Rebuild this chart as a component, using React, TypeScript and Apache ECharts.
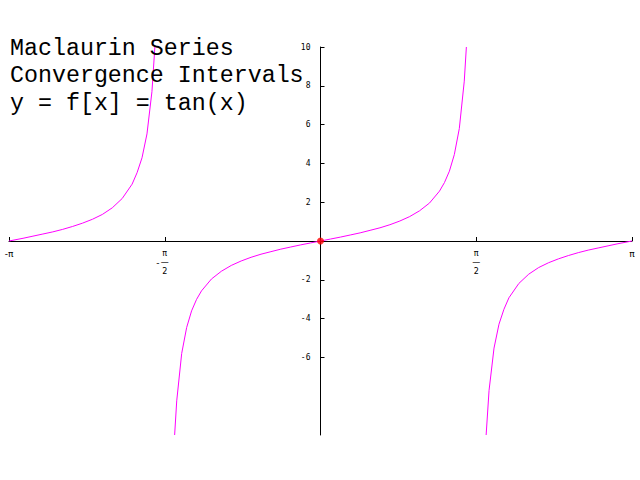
import React, { useEffect, useRef } from "react";
import * as echarts from "echarts";

const titleLines = ["Maclaurin Series", "Convergence Intervals", "y = f[x] = tan(x)"];

// Left branch of tan(x)
const leftX = [-3.1416, -3.0, -2.9, -2.8, -2.7, -2.6, -2.5, -2.4, -2.3, -2.2, -2.1, -2.0, -1.9, -1.85, -1.8, -1.75, -1.7, -1.6705];
const leftY = [0, 0.14, 0.25, 0.36, 0.47, 0.6, 0.75, 0.92, 1.12, 1.37, 1.71, 2.19, 2.93, 3.52, 4.29, 5.52, 7.7, 10];

// Middle branch
const midX = [-1.4711, -1.45, -1.4, -1.35, -1.3, -1.25, -1.2, -1.1, -1.0, -0.9, -0.8, -0.7, -0.6, -0.5, -0.4, -0.3, -0.2, -0.1, 0,
  0.1, 0.2, 0.3, 0.4, 0.5, 0.6, 0.7, 0.8, 0.9, 1.0, 1.1, 1.2, 1.25, 1.3, 1.35, 1.4, 1.45, 1.4711];
const midY = [-10, -8.24, -5.8, -4.46, -3.6, -3.01, -2.57, -1.96, -1.56, -1.26, -1.03, -0.84, -0.68, -0.55, -0.42, -0.31, -0.2, -0.1, 0,
  0.1, 0.2, 0.31, 0.42, 0.55, 0.68, 0.84, 1.03, 1.26, 1.56, 1.96, 2.57, 3.01, 3.6, 4.46, 5.8, 8.24, 10];

// Right branch
const rightX = [1.6705, 1.7, 1.75, 1.8, 1.85, 1.9, 2.0, 2.1, 2.2, 2.3, 2.4, 2.5, 2.6, 2.7, 2.8, 2.9, 3.0, 3.1416];
const rightY = [-10, -7.7, -5.52, -4.29, -3.52, -2.93, -2.19, -1.71, -1.37, -1.12, -0.92, -0.75, -0.6, -0.47, -0.36, -0.25, -0.14, 0];

const originPoint = [[0, 0]];

const xTickValues = [-Math.PI, -Math.PI / 2, Math.PI / 2, Math.PI];
const yTickValues = [-6, -4, -2, 2, 4, 6, 8, 10];

const zip = (xs: number[], ys: number[]) => xs.map((x, i) => [x, ys[i]]);

export default function App() {
  const ref = useRef<HTMLDivElement>(null);
  useEffect(() => {
    if (!ref.current) return;
    const chart = echarts.init(ref.current, null, { renderer: "svg" });
    const curveStyle = { color: "#ff00ff", width: 1 };
    const near = (a: number, b: number) => Math.abs(a - b) < 1e-6;
    const gridLeft = 9, gridRight = 8, gridTop = 47, gridBottom = 45;
    const plotW = 640 - gridLeft - gridRight;
    const plotH = 480 - gridTop - gridBottom;
    chart.setOption({
      animation: false,
      backgroundColor: "#ffffff",
      title: {
        text: titleLines.join("\n"),
        left: 10,
        top: 35,
        padding: 0,
        textStyle: {
          fontFamily: "Liberation Mono",
          fontSize: 23.3,
          fontWeight: "normal",
          color: "#000",
          lineHeight: 27.5,
        },
      },
      grid: { left: gridLeft, right: gridRight, top: gridTop, bottom: gridBottom, containLabel: false, outerBoundsMode: "none" },
      xAxis: {
        type: "value",
        min: -Math.PI,
        max: Math.PI,
        position: "bottom",
        offset: -plotH / 2,
        splitLine: { show: false },
        axisLine: { onZero: false, lineStyle: { color: "#000", width: 1 } },
        axisTick: { show: true, inside: true, length: 4, customValues: xTickValues, lineStyle: { color: "#000" } },
        axisLabel: {
          customValues: xTickValues,
          margin: 8,
          color: "#000",
          fontSize: 8,
          fontFamily: "DejaVu Sans",
          formatter: (v: number) => {
            if (near(v, -Math.PI)) return "{p|-π}";
            if (near(v, Math.PI)) return "{p|π}";
            if (near(v, -Math.PI / 2)) return "{s| }{n|π}{s| }\n{m|-}{n|—}{s| }\n{s| }{n|2}{s| }";
            if (near(v, Math.PI / 2)) return "{n|π}\n{n|—}\n{n|2}";
            return "";
          },
          rich: {
            p: { fontSize: 9, fontFamily: "DejaVu Sans", color: "#000" },
            n: { fontSize: 8, width: 8, align: "center", lineHeight: 9, fontFamily: "DejaVu Sans", color: "#000" },
            s: { fontSize: 8, width: 6, lineHeight: 9 },
            m: { fontSize: 9, width: 6, align: "right", lineHeight: 9, fontFamily: "DejaVu Sans", color: "#000" },
          },
        },
      },
      yAxis: {
        type: "value",
        min: -10,
        max: 10,
        position: "left",
        offset: -plotW / 2,
        splitLine: { show: false },
        axisLine: { onZero: false, lineStyle: { color: "#000", width: 1 } },
        axisTick: { show: true, inside: true, length: 4, customValues: yTickValues, lineStyle: { color: "#000" } },
        axisLabel: {
          customValues: yTickValues,
          margin: 10,
          color: "#000",
          fontSize: 8,
          fontFamily: "DejaVu Sans Mono",
        },
      },
      series: [
        { type: "line", data: zip(leftX, leftY), showSymbol: false, lineStyle: curveStyle, clip: true },
        { type: "line", data: zip(midX, midY), showSymbol: false, lineStyle: curveStyle, clip: true },
        { type: "line", data: zip(rightX, rightY), showSymbol: false, lineStyle: curveStyle, clip: true },
        { type: "scatter", data: originPoint, symbolSize: 7, itemStyle: { color: "#ff0000" }, z: 5 },
      ],
    });
    return () => chart.dispose();
  }, []);
  return <div ref={ref} style={{ position: "fixed", left: 0, top: 0, width: 640, height: 480 }} />;
}
